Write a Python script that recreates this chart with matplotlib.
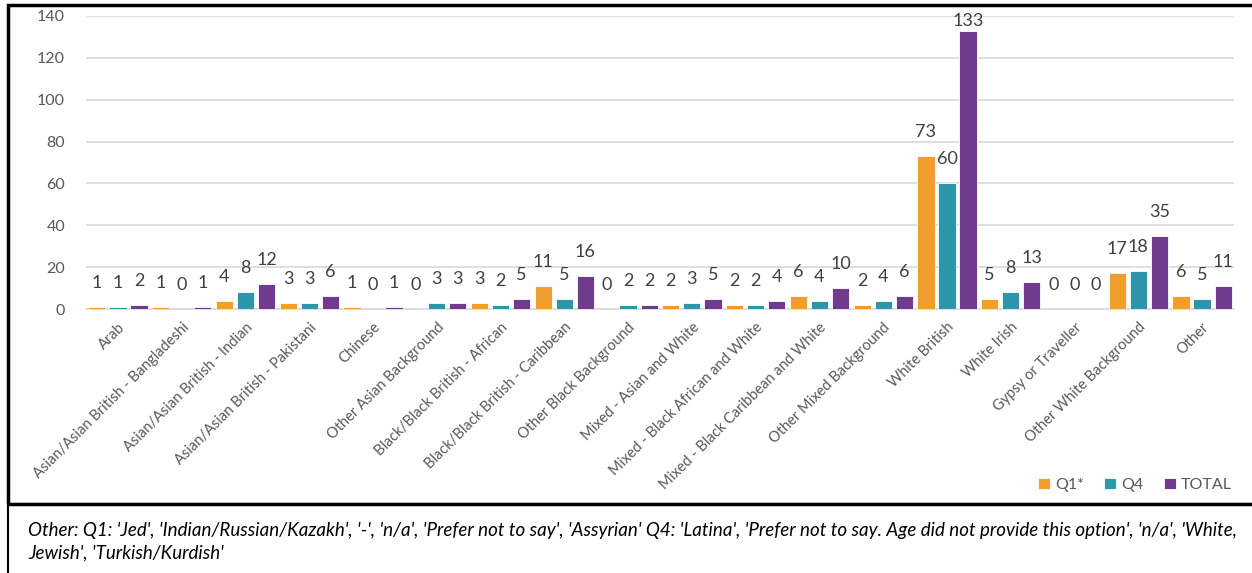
import matplotlib.pyplot as plt
import matplotlib.patches as patches
import numpy as np

plt.rcParams['font.family'] = ['Lato', 'DejaVu Sans']

categories = [
    "Arab",
    "Asian/Asian British - Bangladeshi",
    "Asian/Asian British - Indian",
    "Asian/Asian British - Pakistani",
    "Chinese",
    "Other Asian Background",
    "Black/Black British - African",
    "Black/Black British - Caribbean",
    "Other Black Background",
    "Mixed - Asian and White",
    "Mixed - Black African and White",
    "Mixed - Black Caribbean and White",
    "Other Mixed Background",
    "White British",
    "White Irish",
    "Gypsy or Traveller",
    "Other White Background",
    "Other",
]
q1 = [1, 1, 4, 3, 1, 0, 3, 11, 0, 2, 2, 6, 2, 73, 5, 0, 17, 6]
q4 = [1, 0, 8, 3, 0, 3, 2, 5, 2, 3, 2, 4, 4, 60, 8, 0, 18, 5]
total = [2, 1, 12, 6, 1, 3, 5, 16, 2, 5, 4, 10, 6, 133, 13, 0, 35, 11]

series = [
    ("Q1*", q1, "#F29E2E"),
    ("Q4", q4, "#2E96AA"),
    ("TOTAL", total, "#703A8F"),
]

caption = ("Other: Q1: 'Jed', 'Indian/Russian/Kazakh', '-', 'n/a', 'Prefer not to say', 'Assyrian' "
           "Q4: 'Latina', 'Prefer not to say. Age did not provide this option', 'n/a', 'White,\n"
           "Jewish', 'Turkish/Kurdish'")

fig = plt.figure(figsize=(12.52, 5.73), dpi=100)
ax = fig.add_axes([0.0687, 0.4607, 0.9169, 0.5114])

x = np.arange(len(categories))
step = 0.33
width = 0.27
ymax = 140

for i, (name, vals, color) in enumerate(series):
    pos = x + (i - 1) * step
    ax.bar(pos, vals, width, color=color, edgecolor="white", linewidth=0.6,
           label=name, zorder=3)
    for px, v in zip(pos, vals):
        # labels near the top of the plot area sit closer to the bar
        off = 1.5 if v > ymax - 15 else 11.5
        ax.annotate(str(v), (px, v), xytext=(0, off), textcoords="offset points",
                    ha="center", va="bottom", fontsize=13, color="#404040")

ax.set_xlim(-0.5, len(categories) - 0.5)
ax.set_ylim(0, ymax)
ax.set_yticks(range(0, 141, 20))
ax.grid(axis="y", color="#d9d9d9", linewidth=1.2, zorder=0)
for s in ["top", "left", "right"]:
    ax.spines[s].set_visible(False)
ax.spines["bottom"].set_color("#d9d9d9")
ax.spines["bottom"].set_linewidth(1.2)
ax.tick_params(axis="both", length=0, colors="#595959")
ax.tick_params(axis="y", labelsize=11.5, pad=15)
ax.set_xticks(x)
ax.set_xticklabels(categories, rotation=45, ha="right", rotation_mode="anchor",
                   fontsize=10.5, color="#595959")
ax.tick_params(axis="x", pad=8)

leg = ax.legend(loc="center right", bbox_to_anchor=(1232 / 1252, 1 - 485 / 573),
                bbox_transform=fig.transFigure,
                ncol=3, frameon=False, fontsize=11.5, handlelength=0.75, handleheight=0.75,
                handletextpad=0.3, columnspacing=1.3, labelcolor="#595959",
                borderaxespad=0, borderpad=0)

# frame around the chart and the note underneath
fig.add_artist(patches.Rectangle((8 / 1252, 1 - 504 / 573), 1.0, (504 - 5) / 573,
                                 transform=fig.transFigure, fill=False,
                                 edgecolor="black", linewidth=2.5))
fig.add_artist(patches.Rectangle((8 / 1252, -0.01), 1.0, 1 - 504 / 573 + 0.01,
                                 transform=fig.transFigure, fill=False,
                                 edgecolor="black", linewidth=1.5))

fig.text(28 / 1252, 1 - 522 / 573, caption, ha="left", va="top", fontsize=13.5,
         style="italic", color="black", linespacing=1.35)

fig.savefig("out.png", dpi=100)
